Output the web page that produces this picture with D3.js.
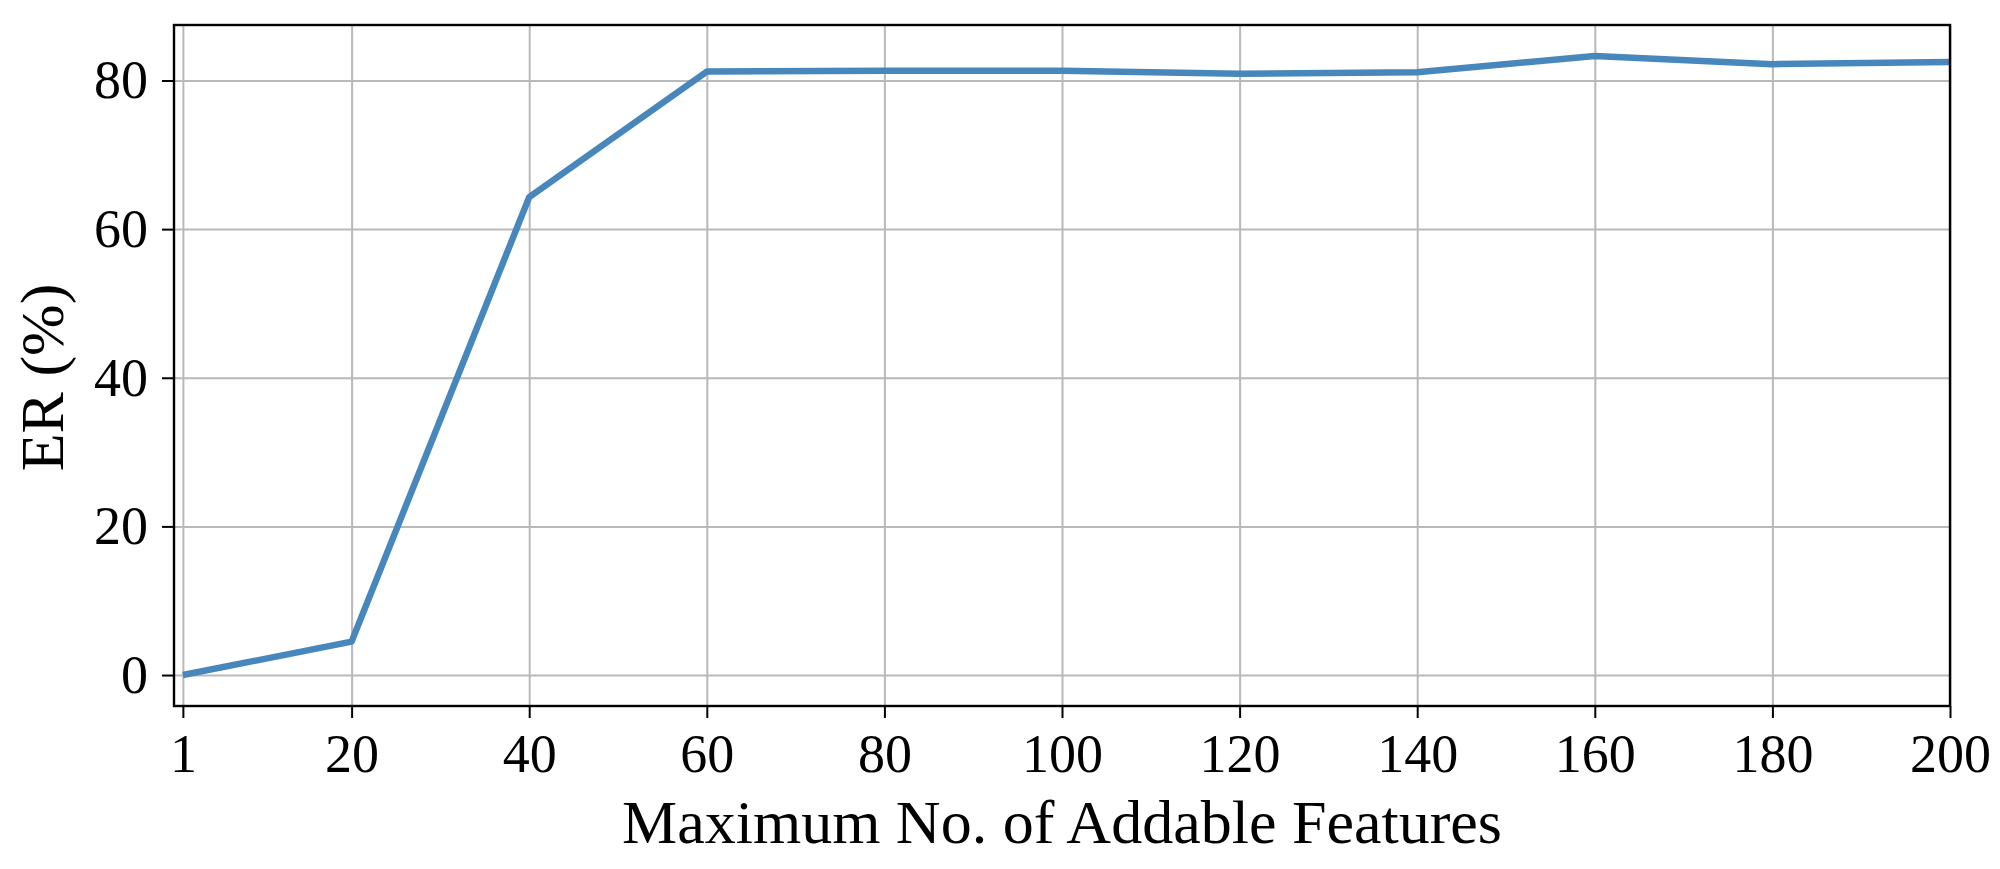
<!DOCTYPE html>
<html>
<head>
<meta charset="utf-8">
<script src="https://cdn.jsdelivr.net/npm/d3@7"></script>
<style>
  body { margin: 0; background: #fff; }
  text { font-family: "Liberation Serif", "Times New Roman", serif; fill: #000; }
</style>
</head>
<body>
<svg id="chart" width="2000" height="869"></svg>
<script>
// data
const maxFeatures = [1, 20, 40, 60, 80, 100, 120, 140, 160, 180, 200];
const erValues = [0, 4.5, 64.3, 81.2, 81.3, 81.3, 80.9, 81.1, 83.3, 82.2, 82.5];
const xTicks = [1, 20, 40, 60, 80, 100, 120, 140, 160, 180, 200];
const yTicks = [0, 20, 40, 60, 80];
const xLabel = 'Maximum No. of Addable Features';
const yLabel = 'ER (%)';

const margin = {top: 25, right: 50, bottom: 163, left: 174};
const width = 2000 - margin.left - margin.right;
const height = 869 - margin.top - margin.bottom;

const svg = d3.select('#chart');
const g = svg.append('g').attr('transform', `translate(${margin.left},${margin.top})`);

// matplotlib style 5% margin on y
const yMin = d3.min(erValues), yMax = d3.max(erValues);
const pad = (yMax - yMin) * 0.05;

const x = d3.scaleLinear().domain([0, 200]).range([0, width]);
const y = d3.scaleLinear().domain([yMin - pad, yMax + pad]).range([height, 0]);

// grid
g.append('g')
  .attr('class', 'grid')
  .attr('transform', `translate(0,${height})`)
  .call(d3.axisBottom(x).tickValues(xTicks).tickSize(-height).tickFormat(''))
  .call(s => s.select('.domain').remove());
g.append('g')
  .attr('class', 'grid')
  .call(d3.axisLeft(y).tickValues(yTicks).tickSize(-width).tickFormat(''))
  .call(s => s.select('.domain').remove());
g.selectAll('.grid line').attr('stroke', '#b9b9b9').attr('stroke-width', 2);

// the line
const line = d3.line()
  .x((d, i) => x(maxFeatures[i]))
  .y(d => y(d));

g.append('path')
  .datum(erValues)
  .attr('fill', 'none')
  .attr('stroke', '#4787bc')
  .attr('stroke-width', 6.5)
  .attr('stroke-linejoin', 'round')
  .attr('d', line);

// frame
g.append('rect')
  .attr('width', width)
  .attr('height', height)
  .attr('fill', 'none')
  .attr('stroke', '#000')
  .attr('stroke-width', 2.4);

// axes
const xAxis = g.append('g')
  .attr('transform', `translate(0,${height})`)
  .call(d3.axisBottom(x).tickValues(xTicks).tickSize(12).tickPadding(16));
const yAxis = g.append('g')
  .call(d3.axisLeft(y).tickValues(yTicks).tickSize(12).tickPadding(14));

[xAxis, yAxis].forEach(a => {
  a.select('.domain').remove();
  a.selectAll('.tick line').attr('stroke', '#000').attr('stroke-width', 2);
  a.selectAll('.tick text')
    .attr('font-size', 54)
    .attr('font-family', '"Liberation Serif", serif')
    .attr('fill', '#000');
});

// axis labels
svg.append('text')
  .attr('x', margin.left + width / 2)
  .attr('y', 843)
  .attr('text-anchor', 'middle')
  .attr('font-size', 62)
  .text(xLabel);

svg.append('text')
  .attr('transform', `translate(63,${margin.top + height / 2 + 12}) rotate(-90)`)
  .attr('text-anchor', 'middle')
  .attr('font-size', 62)
  .text(yLabel);
</script>
</body>
</html>
